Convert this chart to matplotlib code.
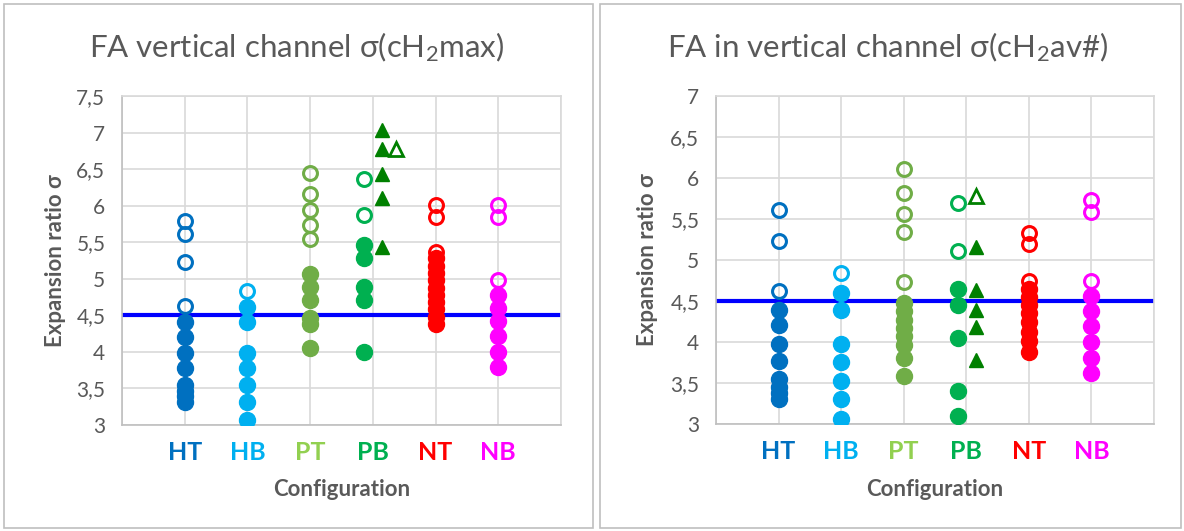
import matplotlib
matplotlib.use("Agg")
import matplotlib.pyplot as plt
from matplotlib.patches import Rectangle
from matplotlib.ticker import FuncFormatter

plt.rcParams['font.family'] = ['Lato', 'DejaVu Sans']
plt.rcParams['mathtext.fontset'] = 'custom'
plt.rcParams['mathtext.rm'] = 'Lato'
plt.rcParams['mathtext.it'] = 'Lato:italic'
plt.rcParams['mathtext.bf'] = 'Lato:bold'

categories = ["HT", "HB", "PT", "PB", "NT", "NB"]
label_colors = ["#0070C0", "#00B0F0", "#92D050", "#00B050", "#FF0000", "#FF00FF"]
marker_colors = ["#0070C0", "#00B0F0", "#70AD47", "#00B050", "#FF0000", "#FF00FF"]
tri_color = "#008000"
ref_value = 4.5

# ---- left panel: sigma(cH2max) ----
L_open = {
    "HT": [5.79, 5.61, 5.23, 4.63],
    "HB": [4.83],
    "PT": [6.45, 6.16, 5.94, 5.73, 5.55],
    "PB": [6.37, 5.87],
    "NT": [6.01, 5.85, 5.37],
    "NB": [6.01, 5.85, 4.98],
}
L_fill = {
    "HT": [4.41, 4.21, 3.98, 3.78, 3.55, 3.47, 3.40, 3.32],
    "HB": [4.62, 4.41, 3.98, 3.78, 3.55, 3.32, 3.07],
    "PT": [5.07, 4.89, 4.71, 4.47, 4.38, 4.05],
    "PB": [5.46, 5.28, 4.89, 4.71, 4.00],
    "NT": [5.28, 5.18, 5.08, 4.98, 4.88, 4.78, 4.68, 4.58, 4.48, 4.38],
    "NB": [4.78, 4.60, 4.42, 4.22, 4.00, 3.80],
}
L_tri_fill = [7.03, 6.77, 6.43, 6.10, 5.44]
L_tri_open = [6.77]

# ---- right panel: sigma(cH2av#) ----
R_open = {
    "HT": [5.61, 5.23, 4.62],
    "HB": [4.84],
    "PT": [6.11, 5.82, 5.56, 5.34, 4.73],
    "PB": [5.69, 5.11],
    "NT": [5.33, 5.19, 4.74],
    "NB": [5.73, 5.58, 4.75],
}
R_fill = {
    "HT": [4.39, 4.21, 3.98, 3.77, 3.55, 3.45, 3.38, 3.31],
    "HB": [4.60, 4.39, 3.97, 3.76, 3.53, 3.30, 3.06],
    "PT": [4.48, 4.38, 4.27, 4.17, 4.07, 3.96, 3.81, 3.58],
    "PB": [4.65, 4.45, 4.05, 3.40, 3.10],
    "NT": [4.65, 4.55, 4.45, 4.35, 4.24, 4.12, 4.01, 3.88],
    "NB": [4.56, 4.38, 4.19, 4.00, 3.80, 3.62],
}
R_tri_fill = [5.16, 4.64, 4.39, 4.18, 3.78]
R_tri_open = [5.78]

W, H = 1184, 531
fig = plt.figure(figsize=(W / 100, H / 100), dpi=100)
fig.patch.set_facecolor("white")

# panel borders
for x0, x1 in [(4, 593), (600, 1181)]:
    fig.patches.append(Rectangle((x0 / W, 1 - 528 / H), (x1 - x0) / W, (528 - 4) / H,
                                 transform=fig.transFigure, fill=False,
                                 edgecolor="#BFBFBF", lw=1.2))

gray = "#595959"
grid_c = "#D9D9D9"
comma = FuncFormatter(lambda v, p: (f"{v:g}").replace(".", ","))


def panel(rect, opens, fills, tri_f, tri_o, tri_o_dx, ymax, title, title_x, ylab_x):
    ax = fig.add_axes(rect)
    ax.set_xlim(0, 7)
    ax.set_ylim(3, ymax)
    ax.set_xticks(range(0, 8), minor=False)
    ax.set_yticks([3 + 0.5 * i for i in range(int((ymax - 3) / 0.5) + 1)])
    ax.grid(True, color=grid_c, lw=1.2, zorder=0)
    ax.set_axisbelow(True)
    for s in ax.spines.values():
        s.set_color(grid_c)
        s.set_linewidth(1.2)
    ax.spines["left"].set_color("#BFBFBF")
    ax.spines["bottom"].set_color("#BFBFBF")
    ax.yaxis.set_major_formatter(comma)
    ax.tick_params(axis="y", length=0, pad=12, labelsize=15, labelcolor=gray)
    ax.tick_params(axis="x", length=0, labelbottom=False)
    # category labels
    for i, (c, col) in enumerate(zip(categories, label_colors)):
        ax.text(i + 1, -0.085, c, transform=ax.get_xaxis_transform(), ha="center", va="center",
                fontsize=18, fontweight="bold", color=col)
    ax.axhline(ref_value, color="#0000FF", lw=3, zorder=2)
    for i, c in enumerate(categories):
        x = i + 1
        dx = -0.14 if c == "PB" else 0.0
        col = marker_colors[i]
        ax.plot([x + dx] * len(fills[c]), fills[c], "o", ms=11.5, color=col, mec=col,
                lw=0, zorder=3)
        ax.plot([x + dx] * len(opens[c]), opens[c], "o", ms=10, mfc="none", mec=col,
                mew=2.2, lw=0, zorder=4)
    xp = 4
    ax.plot([xp + 0.15] * len(tri_f), tri_f, "^", ms=10.5, color=tri_color, lw=0, zorder=4)
    ax.plot([xp + tri_o_dx] * len(tri_o), tri_o, "^", ms=9.5, mfc="white", mec=tri_color,
            mew=2, lw=0, zorder=4)
    fig.text(title_x, 1 - 47 / H, title, ha="center", va="center", fontsize=22.5, color=gray)
    fig.text(ylab_x, rect[1] + rect[3] / 2, "Expansion ratio σ", rotation=90, ha="center",
             va="center", fontsize=16, fontweight="bold", color=gray)
    fig.text(rect[0] + rect[2] / 2 + 0.0, 1 - 489 / H, "Configuration", ha="center",
             va="center", fontsize=16, fontweight="bold", color=gray)
    return ax


panel([122 / W, 1 - 425 / H, 439 / W, 329 / H], L_open, L_fill, L_tri_fill, L_tri_open, 0.37,
      7.5, r"FA vertical channel σ(cH$_2$max)", 297 / W, 55 / W)
panel([716 / W, 1 - 424 / H, 438 / W, 328 / H], R_open, R_fill, R_tri_fill, R_tri_open, 0.15,
      7.0, r"FA in vertical channel σ(cH$_2$av#)", 888 / W, 648 / W)

fig.savefig("out.png", dpi=100, facecolor="white")
